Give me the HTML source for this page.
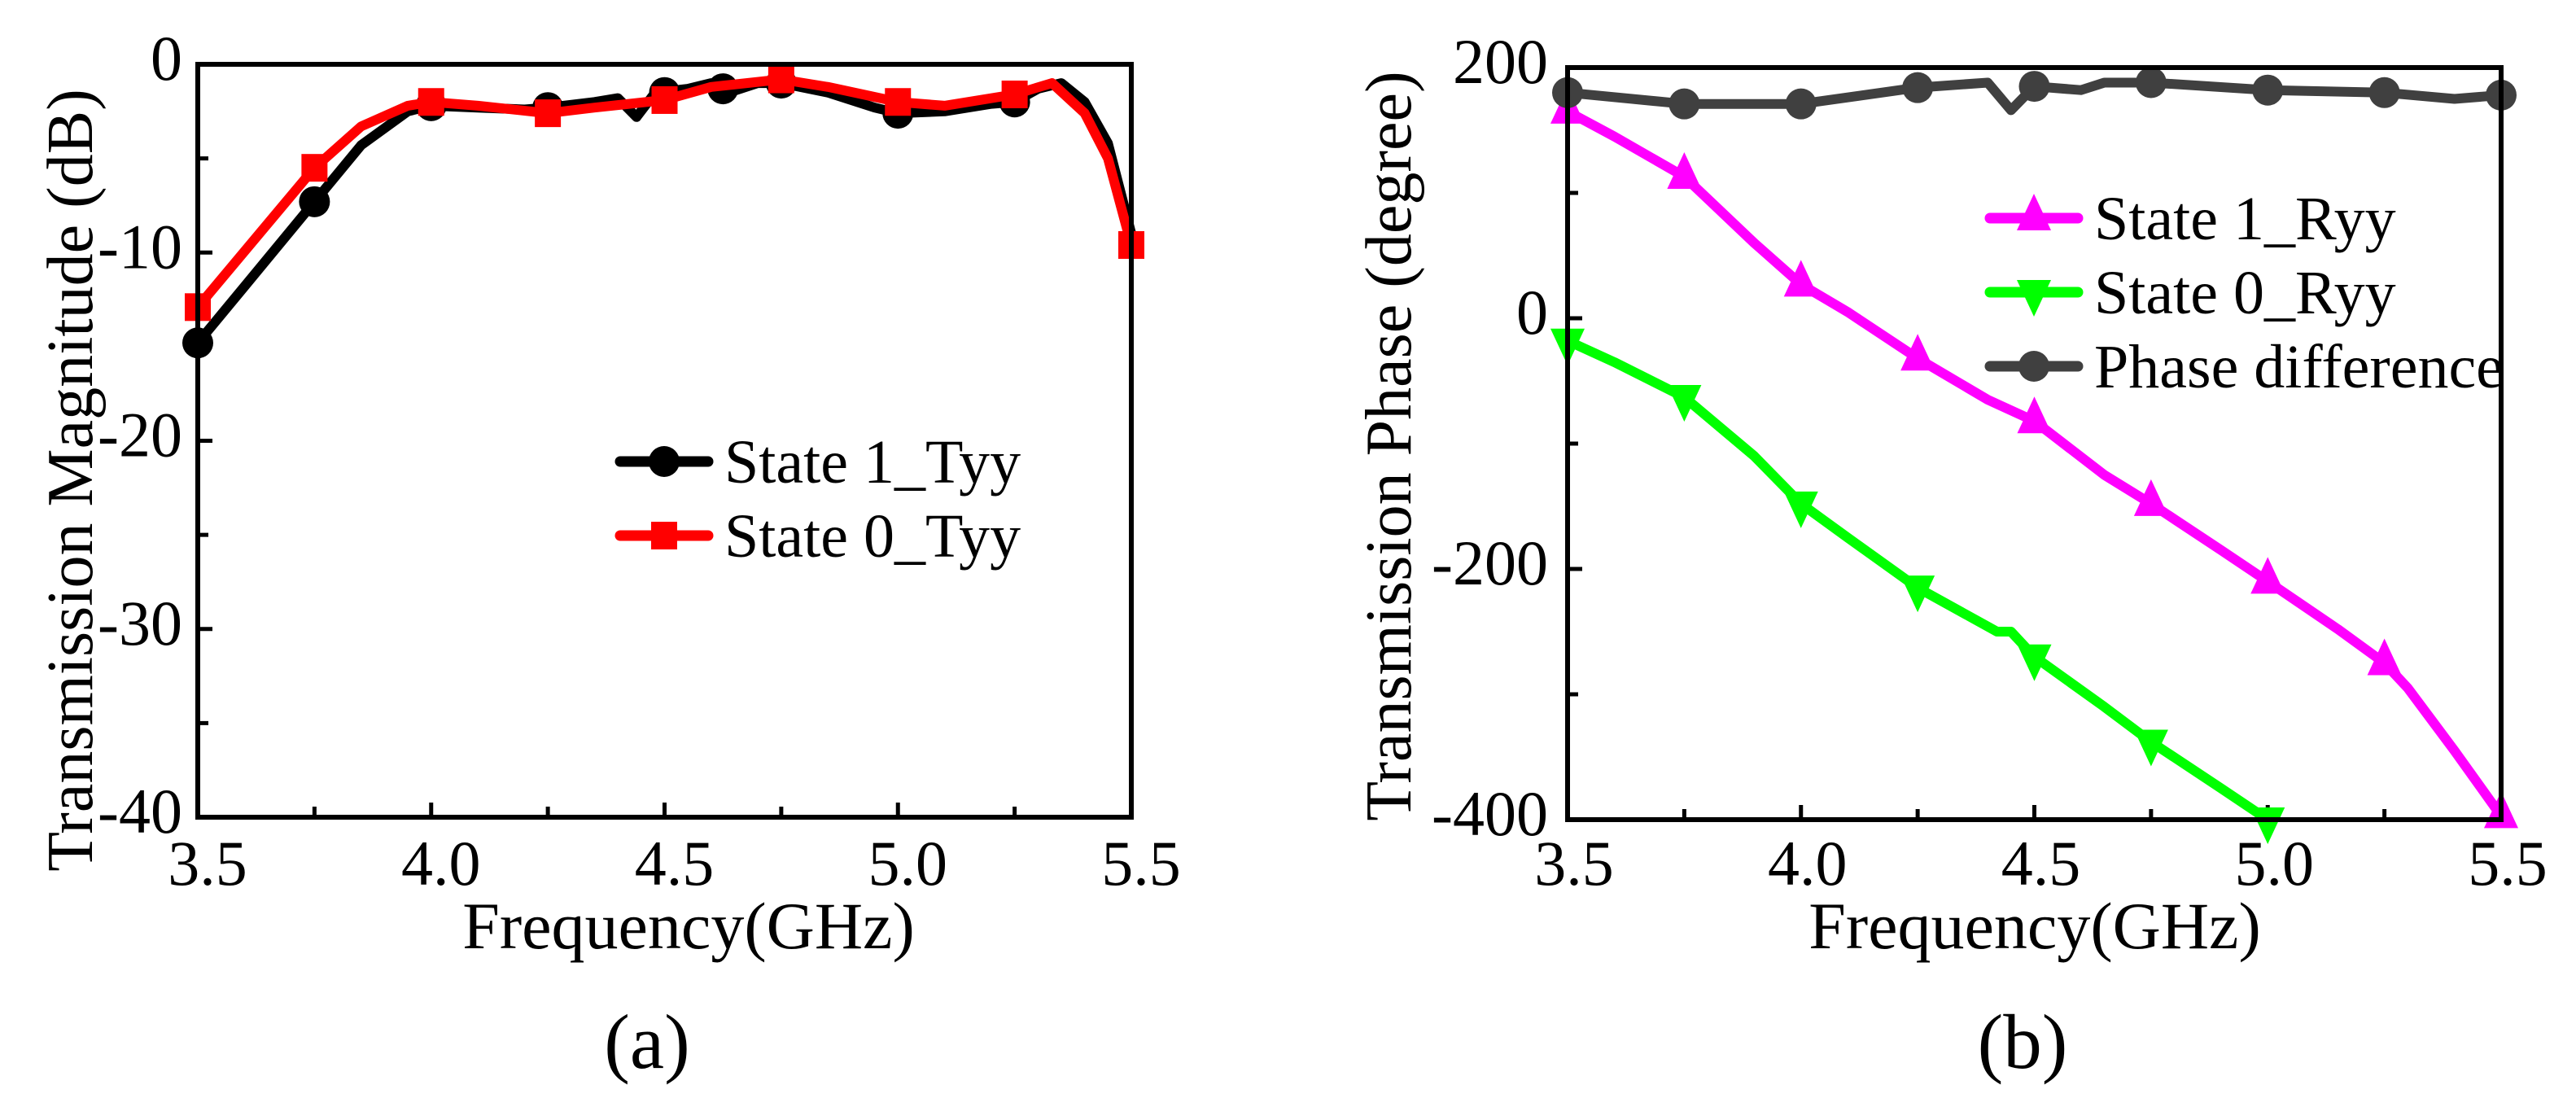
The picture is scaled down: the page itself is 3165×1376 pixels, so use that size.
<!DOCTYPE html>
<html><head><meta charset="utf-8"><style>
html,body{margin:0;padding:0;background:#fff;}
svg{display:block;}
svg text{font-family:"Liberation Serif","Times New Roman","DejaVu Serif",serif;}
</style></head><body>
<svg id="fig" width="3165" height="1376" viewBox="0 0 3165 1376" xmlns="http://www.w3.org/2000/svg"></svg>
<script>
// ---- Panel (a) data ----
const aXTicks = [3.5, 4.0, 4.5, 5.0, 5.5];
const aXTickLabels = ["3.5", "4.0", "4.5", "5.0", "5.5"];
const aYTicks = [0, -10, -20, -30, -40];
const aYTickLabels = ["0", "-10", "-20", "-30", "-40"];
const s1TyyFreq = [3.5,3.6,3.75,3.85,3.95,4.0,4.1,4.2,4.25,4.35,4.4,4.44,4.48,4.55,4.6,4.65,4.7,4.75,4.85,4.95,5.0,5.1,5.2,5.25,5.3,5.35,5.4,5.45,5.5];
const s1TyyVal  = [-14.8,-11.8,-7.3,-4.3,-2.5,-2.2,-2.3,-2.4,-2.3,-2.0,-1.8,-2.8,-1.5,-1.3,-1.0,-1.4,-1.0,-1.0,-1.5,-2.3,-2.6,-2.5,-2.1,-2.0,-1.3,-1.0,-2.0,-4.2,-9.0];
const s1TyyMarkF = [3.5,3.75,4.0,4.25,4.5,4.625,4.75,5.0,5.25];
const s1TyyMarkV = [-14.8,-7.3,-2.2,-2.3,-1.5,-1.3,-1.0,-2.6,-2.0];
const s0TyyFreq = [3.5,3.75,3.85,3.95,4.0,4.1,4.25,4.35,4.5,4.6,4.75,4.85,5.0,5.1,5.25,5.33,5.4,5.45,5.5];
const s0TyyVal  = [-12.9,-5.5,-3.3,-2.2,-2.0,-2.2,-2.6,-2.3,-1.9,-1.2,-0.8,-1.2,-2.0,-2.2,-1.6,-1.0,-2.6,-5.0,-9.6];
const s0TyyMarkF = [3.5,3.75,4.0,4.25,4.5,4.75,5.0,5.25,5.5];
const s0TyyMarkV = [-12.9,-5.5,-2.0,-2.6,-1.9,-0.8,-2.0,-1.6,-9.6];
// ---- Panel (b) data ----
const bYTicks = [200, 0, -200, -400];
const bYTickLabels = ["200", "0", "-200", "-400"];
const s1RyyFreq = [3.5,3.6,3.75,3.9,4.0,4.1,4.25,4.4,4.5,4.65,4.75,4.9,5.0,5.15,5.25,5.3,5.4,5.5];
const s1RyyVal  = [165,145,113,60,27,5,-32,-65,-82,-125,-148,-185,-210,-248,-275,-295,-345,-397];
const s1RyyMarkF = [3.5,3.75,4.0,4.25,4.5,4.75,5.0,5.25,5.5];
const s1RyyMarkV = [165,113,27,-32,-82,-148,-210,-275,-397];
const s0RyyFreq = [3.5,3.6,3.75,3.9,4.0,4.1,4.25,4.42,4.45,4.5,4.65,4.75,4.9,5.0];
const s0RyyVal  = [-18,-35,-63,-110,-148,-175,-215,-250,-250,-270,-310,-338,-375,-400];
const s0RyyMarkF = [3.5,3.75,4.0,4.25,4.5,4.75,5.0];
const s0RyyMarkV = [-18,-63,-148,-215,-270,-338,-400];
const diffFreq = [3.5,3.75,4.0,4.25,4.4,4.45,4.5,4.6,4.65,4.75,5.0,5.25,5.4,5.5];
const diffVal  = [180,171,171,184,188,166,185,182,188,188,182,180,175,178];
const diffMarkF = [3.5,3.75,4.0,4.25,4.5,4.75,5.0,5.25,5.5];
const diffMarkV = [180,171,171,184,185,188,182,180,178];

const NS = "http://www.w3.org/2000/svg";
const FONT = '"Liberation Serif","Times New Roman","DejaVu Serif",serif';
const svg = document.getElementById('fig');
function mk(tag, attrs, parent){ const e=document.createElementNS(NS,tag); for(const k in attrs) e.setAttribute(k,attrs[k]); (parent||svg).appendChild(e); return e; }
function txt(s, attrs, parent){ const e=mk('text',attrs,parent); e.setAttribute('font-family',FONT); e.textContent=s; return e; }

function panel(P){
  const g = mk('g',{});
  
  
  const X = v => P.x0 + (v - P.xmin)/(P.xmax-P.xmin)*(P.x1-P.x0);
  const Y = v => P.y0 + (P.ymax - v)/(P.ymax-P.ymin)*(P.y1-P.y0);
  const tg = mk('g',{stroke:'#000','stroke-width':5},g);
  
  
  for(let i=0;i<=8;i++){ const v=P.xmin+i*(P.xmax-P.xmin)/8; const x=X(v); const L=(i%2==0)?18:13;
    mk('line',{x1:x,x2:x,y1:P.y1,y2:P.y1-L},tg); }
  for(let i=0;i<=P.ySub;i++){ const v=P.ymin+i*(P.ymax-P.ymin)/P.ySub; const y=Y(v); const L=(i%2==0)?18:13;
    mk('line',{x1:P.x0,x2:P.x0+L,y1:y,y2:y},tg); }
  P.series.forEach(s=>{
    const sg=mk('g',{},g);
    
    
    const pts=s.f.map((f,i)=>X(f).toFixed(1)+','+Y(s.v[i]).toFixed(1)).join(' ');
    mk('polyline',{points:pts,fill:'none',stroke:s.color,'stroke-width':12,'stroke-linejoin':'round','stroke-linecap':'round'},sg);
    s.mf.forEach((f,i)=>{ const m=marker(s.marker,X(f),Y(s.mv[i]),s.color,sg);
      
       });
  });
  const fr=mk('rect',{x:P.x0,y:P.y0,width:P.x1-P.x0,height:P.y1-P.y0,fill:'none',stroke:'#000','stroke-width':6},g);
  
  
  P.xt.forEach((v,i)=>{ const t=txt(P.xtl[i],{x:X(v)+P.xlo,y:1087,'font-size':78,'text-anchor':'middle'},g);
    
     });
  P.yt.forEach((v,i)=>{ const t=txt(P.ytl[i],{x:P.labR,y:Y(v)+19,'font-size':78,'text-anchor':'end'},g);
    
     });
  const xt=txt('Frequency(GHz)',{x:P.xtx,y:1165,'font-size':82,'text-anchor':'middle'},g);
  
  
  const yt=txt(P.ytitle,{x:0,y:0,'font-size':80,'text-anchor':'middle',transform:`translate(${P.ytx},${P.yty}) rotate(-90)`},g);
  
  
  const pl=txt(P.label,{x:P.lx,y:1312,'font-size':95,'text-anchor':'middle'},g);
  
  
  P.series.forEach((s,i)=>{
    const lg=mk('g',{},g);
    
    
    const y=P.legY+i*91;
    mk('line',{x1:P.legX,x2:P.legX+108,y1:y,y2:y,stroke:s.color,'stroke-width':13,'stroke-linecap':'round'},lg);
    marker(s.marker,P.legX+54,y,s.color,lg);
    txt(s.label,{x:P.legX+128,y:y+26,'font-size':76},lg);
  });
}
function marker(type,x,y,c,parent){
  if(type==='circle') return mk('circle',{cx:x,cy:y,r:19,fill:c},parent);
  if(type==='square') return mk('rect',{x:x-16,y:y-17,width:32,height:34,fill:c},parent);
  if(type==='up') return mk('polygon',{points:`${x},${y-30} ${x+21},${y+15} ${x-21},${y+15}`,fill:c},parent);
  return mk('polygon',{points:`${x},${y+30} ${x+21},${y-15} ${x-21},${y-15}`,fill:c},parent);
}

panel({name:'panel-a-magnitude-chart',x0:243,x1:1390,y0:79,y1:1004,xmin:3.5,xmax:5.5,ymin:-40,ymax:0,ySub:8,
  xt:aXTicks,xtl:aXTickLabels,yt:aYTicks,ytl:aYTickLabels,labR:224,xlo:12,xtx:846,ytx:113,yty:590,
  ytitle:'Transmission Magnitude (dB)',label:'(a)',lx:795,legX:762,legY:567,
  series:[
   {name:'state1-tyy-line',label:'State 1_Tyy',color:'#000000',marker:'circle',f:s1TyyFreq,v:s1TyyVal,mf:s1TyyMarkF,mv:s1TyyMarkV},
   {name:'state0-tyy-line',label:'State 0_Tyy',color:'#ff0000',marker:'square',f:s0TyyFreq,v:s0TyyVal,mf:s0TyyMarkF,mv:s0TyyMarkV}
  ]});
panel({name:'panel-b-phase-chart',x0:1926,x1:3073,y0:83,y1:1007,xmin:3.5,xmax:5.5,ymin:-400,ymax:200,ySub:6,
  xt:aXTicks,xtl:aXTickLabels,yt:bYTicks,ytl:bYTickLabels,labR:1902,xlo:8,xtx:2500,ytx:1733,yty:548,
  ytitle:'Transmission Phase (degree)',label:'(b)',lx:2485,legX:2445,legY:268,
  series:[
   {name:'state1-ryy-line',label:'State 1_Ryy',color:'#ff00ff',marker:'up',f:s1RyyFreq,v:s1RyyVal,mf:s1RyyMarkF,mv:s1RyyMarkV},
   {name:'state0-ryy-line',label:'State 0_Ryy',color:'#00ff00',marker:'down',f:s0RyyFreq,v:s0RyyVal,mf:s0RyyMarkF,mv:s0RyyMarkV},
   {name:'phase-difference-line',label:'Phase difference',color:'#404040',marker:'circle',f:diffFreq,v:diffVal,mf:diffMarkF,mv:diffMarkV}
  ]});
</script>
</body></html>
